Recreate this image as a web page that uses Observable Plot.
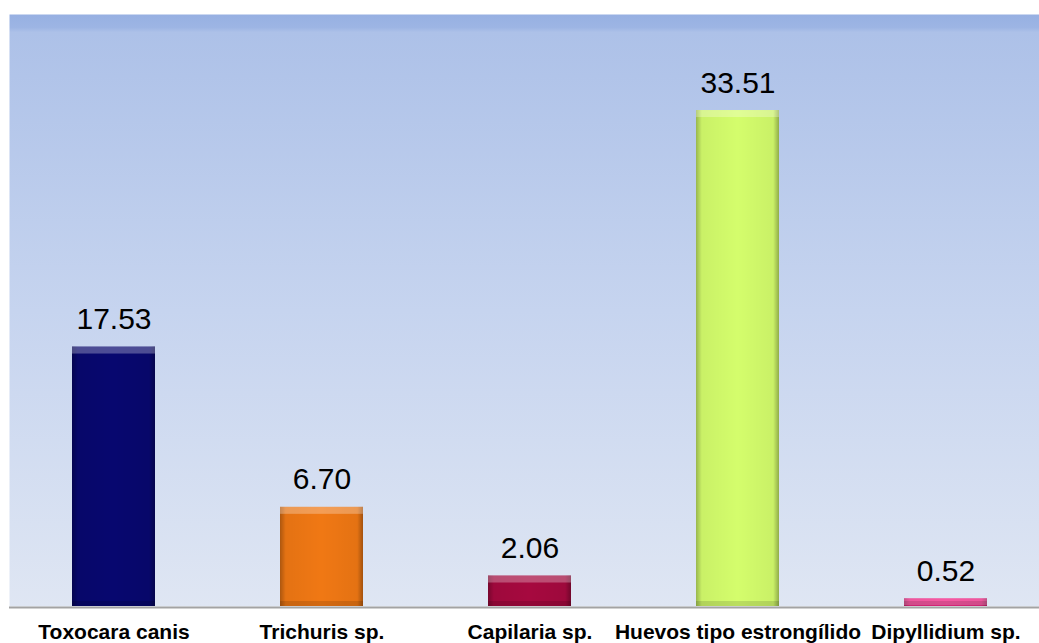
<!DOCTYPE html>
<html>
<head>
<meta charset="utf-8">
<script src="https://cdn.jsdelivr.net/npm/d3@7"></script>
<script src="https://cdn.jsdelivr.net/npm/@observablehq/plot@0.6"></script>
<style>
  html, body { margin: 0; padding: 0; background: #ffffff; }
  #chart svg { display: block; }
</style>
</head>
<body>
<div id="chart"></div>
<script>
// Parasite prevalence (%) by species
const categories = ["Toxocara canis", "Trichuris sp.", "Capilaria sp.", "Huevos tipo estrongílido", "Dipyllidium sp."];
const values = [17.53, 6.70, 2.06, 33.51, 0.52];
const barColors = ["#07076f", "#f07814", "#a6093f", "#d4fd6c", "#f3177e"];

const data = categories.map((name, i) => ({name, value: values[i], color: barColors[i]}));
const fmt = d3.format(".2f");

const chart = Plot.plot({
  width: 1039,
  height: 643,
  marginLeft: 9,
  marginRight: 0,
  marginTop: 14,
  marginBottom: 37,
  style: {fontFamily: "'Liberation Sans', Arial, sans-serif", color: "#000", background: "#ffffff"},
  x: {domain: categories, range: [9, 1051], paddingInner: 0.6, paddingOuter: 0.3, label: null},
  y: {domain: [0, 40], axis: null},
  marks: [
    Plot.frame({fill: "url(#plotBg)", stroke: "none"}),
    // bars
    Plot.barY(data, {x: "name", y: "value", fill: "color"}),
    // darker vertical edges
    Plot.barY(data, {x: "name", y: "value", fill: "url(#bevelSides)"}),
    // light top edge
    Plot.barY(data, {x: "name", y1: "value", y2: "value", insetBottom: -7, fill: "#ffffff", fillOpacity: 0.28}),
    // shaded bottom edge
    Plot.barY(data, {x: "name", y1: 0, y2: 0, insetTop: -5, fill: "#000000", fillOpacity: 0.12}),
    Plot.ruleY([0], {stroke: "#a3a3a3", strokeWidth: 2, dy: 1}),
    Plot.text(data, {x: "name", y: "value", text: d => fmt(d.value), dy: -18, lineAnchor: "bottom", fontSize: 30, fill: "#000"}),
    Plot.axisX({tickSize: 0, tickPadding: 18, fontSize: 21, fontWeight: "bold", label: null})
  ]
});

// gradients used by the plot background and the bar edges
const defs = d3.select(chart).insert("defs", ":first-child");
const bg = defs.append("linearGradient").attr("id", "plotBg")
  .attr("x1", 0).attr("y1", 0).attr("x2", 0).attr("y2", 1);
[[0, "#97b0e2"], [0.022, "#9db5e4"], [0.03, "#adc1e8"], [0.5, "#c6d4ef"], [1, "#dfe6f3"]]
  .forEach(([o, c]) => bg.append("stop").attr("offset", o).attr("stop-color", c));
const sides = defs.append("linearGradient").attr("id", "bevelSides")
  .attr("x1", 0).attr("y1", 0).attr("x2", 1).attr("y2", 0);
[[0, "#000", 0.28], [0.07, "#000", 0.05], [0.5, "#000", 0], [0.93, "#000", 0.05], [1, "#000", 0.32]]
  .forEach(([o, c, a]) => sides.append("stop").attr("offset", o).attr("stop-color", c).attr("stop-opacity", a));

document.getElementById("chart").appendChild(chart);
</script>
</body>
</html>
